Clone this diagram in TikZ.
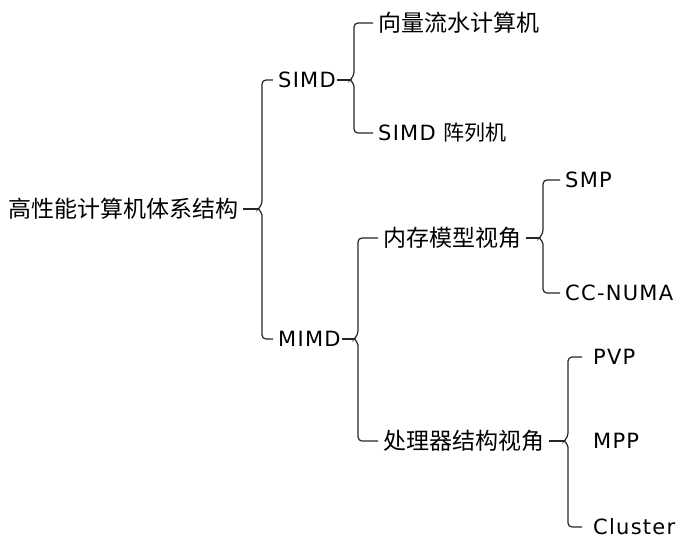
\documentclass[tikz,border=0pt]{standalone}
\usepackage{fontspec}
\setmainfont{DejaVu Sans}[LetterSpace=6]
\newfontfamily\cjk{Noto Sans CJK SC}
\usetikzlibrary{positioning}

\begin{document}
\begin{tikzpicture}[
            x=1pt, y=-1pt,
            item/.style={anchor=west, inner xsep=5pt, inner ysep=0pt, font=\fontsize{21}{25}\selectfont},
            zh/.style={item, font=\fontsize{23}{27}\selectfont\cjk},
            conn/.style={draw=black!85, line width=1.2pt, rounded corners=4pt},
        ]
            \useasboundingbox (0,0) rectangle (688,550);

            % root
            \node[zh] (root) at (3,209) {高性能计算机体系结构};
            \node[item] (simd) at (273,80) {SIMD};
            \node[item] (mimd) at (273,339) {MIMD};

            % SIMD branch
            \node[zh] (vec) at (373,23) {向量流水计算机};
            \node[item] (arr) at (373,133) {SIMD {\cjk 阵列机}};

            % MIMD branch
            \node[zh] (mem) at (378,238) {内存模型视角};
            \node[zh] (proc) at (378,441) {处理器结构视角};
            \node[item] (smp) at (560,180) {SMP};
            \node[item] (numa) at (560,293) {CC-NUMA};
            \node[item] (pvp) at (588,357) {PVP};
            \node[item] (mpp) at (588,441) {MPP};
            \node[item] (clu) at (588,527) {Cluster};

            % braces
            \coordinate (b0) at (262,209);
            \coordinate (b1) at (354,80);
            \coordinate (b2) at (358,339);
            \coordinate (b3) at (543,238);
            \coordinate (b4) at (568,441);

            \draw[conn] (root.east) -- ([xshift=-4pt]b0);
            \draw[conn] (simd.west) -| ([yshift=4pt]b0) [rounded corners=2pt] -- ([xshift=-4pt]b0) -- ([yshift=-4pt]b0) [rounded corners=4pt] |- (mimd.west);
            \draw[conn] ([xshift=-4pt]simd.east) -- ([xshift=-4pt]b1);
            \draw[conn] (vec.west) -| ([yshift=4pt]b1) [rounded corners=2pt] -- ([xshift=-4pt]b1) -- ([yshift=-4pt]b1) [rounded corners=4pt] |- (arr.west);
            \draw[conn] ([xshift=-4pt]mimd.east) -- ([xshift=-4pt]b2);
            \draw[conn] (mem.west) -| ([yshift=4pt]b2) [rounded corners=2pt] -- ([xshift=-4pt]b2) -- ([yshift=-4pt]b2) [rounded corners=4pt] |- (proc.west);
            \draw[conn] (mem.east) -- ([xshift=-4pt]b3);
            \draw[conn] (smp.west) -| ([yshift=4pt]b3) [rounded corners=2pt] -- ([xshift=-4pt]b3) -- ([yshift=-4pt]b3) [rounded corners=4pt] |- (numa.west);
            \draw[conn] (proc.east) -- ([xshift=-4pt]b4);
            \draw[conn] ([xshift=-6pt]pvp.west) -| ([yshift=4pt]b4) [rounded corners=2pt] -- ([xshift=-4pt]b4) -- ([yshift=-4pt]b4) [rounded corners=4pt] |- ([xshift=-6pt]clu.west);
        \end{tikzpicture}
\end{document}
